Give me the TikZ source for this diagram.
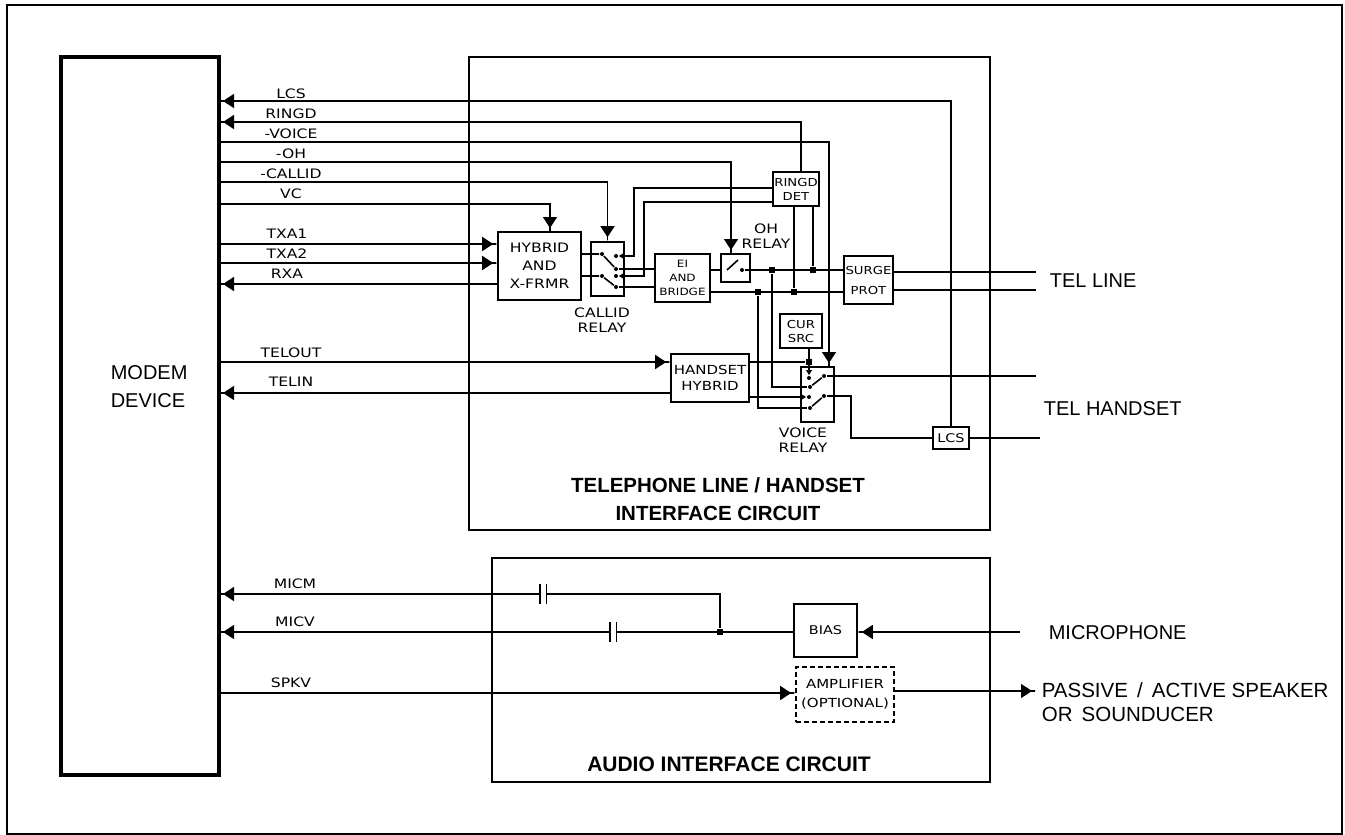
\documentclass[tikz,border=0pt]{standalone}
\usepackage{fontspec}
\setmainfont{Liberation Sans}
\newfontfamily\pixfont[FakeStretch=1.2]{DejaVu Sans}
\usetikzlibrary{positioning, calc, arrows.meta}

\begin{document}
\begin{tikzpicture}[
        x=1pt, y=-1pt,
        line width=1.6pt,
        font=\pixfont\fontsize{13}{18}\selectfont,
        block/.style={rectangle, draw, inner sep=0pt, align=center},
        tightblock/.style={block, font=\pixfont\fontsize{11}{14}\selectfont},
        circuit/.style={rectangle, draw, inner sep=0pt, line width=1.6pt},
        siglabel/.style={inner sep=0pt},
        relaylabel/.style={inner sep=0pt, align=center, font=\pixfont\fontsize{13}{15}\selectfont},
        biglabel/.style={inner sep=0pt, anchor=west, align=left, font=\fontsize{20}{24}\selectfont},
        titlelabel/.style={inner sep=0pt, align=center, font=\bfseries\fontsize{20.5}{28}\selectfont},
        junction/.style={rectangle, fill, inner sep=0pt, minimum size=6pt},
        contact/.style={circle, fill, inner sep=0pt, minimum size=4pt},
        capgap/.style={rectangle, inner sep=0pt, minimum width=5pt, minimum height=18pt},
        arrow/.style={-{Triangle[length=11pt,width=14pt,sep=0pt]Rectangle[length=4pt,width=1.6pt]}},
        smallarrow/.style={-{Triangle[length=5pt,width=5.5pt]}}
    ]
        \useasboundingbox (0,0) rectangle (1345,835);

        % Frames
        \node [rectangle, draw, line width=2pt, minimum width=1335pt, minimum height=829pt] (frame) at (674.5,419.5) {};
        \node [circuit, minimum width=521pt, minimum height=473pt] (telbox) at (729.5,293.5) {};
        \node [circuit, minimum width=498pt, minimum height=224pt] (audiobox) at (741,670) {};
        \node [rectangle, draw, line width=4pt, inner sep=0pt, minimum width=158pt, minimum height=718pt] (modem) at (140,416) {};
        \node [biglabel, font=\fontsize{20}{28}\selectfont] (modemlabel) at (110,387) {MODEM\\DEVICE};

        % Blocks
        \node [block, minimum width=83pt, minimum height=68pt] (hybrid) at (539.5,266) {HYBRID\\AND\\X-FRMR};
        \node [block, minimum width=33pt, minimum height=54pt] (callid) at (607.5,269) {};
        \node [tightblock, minimum width=55pt, minimum height=48pt, font=\pixfont\fontsize{10}{14}\selectfont] (bridge) at (682.5,278) {EI\\AND\\BRIDGE};
        \node [block, minimum width=29pt, minimum height=28pt] (oh) at (735.5,268) {};
        \node [tightblock, minimum width=46pt, minimum height=34pt] (ringd) at (796,189) {RINGD\\DET};
        \node [tightblock, minimum width=49pt, minimum height=48pt, font=\pixfont\fontsize{11}{20}\selectfont] (surge) at (868.5,280) {SURGE\\PROT};
        \node [tightblock, minimum width=42pt, minimum height=34pt] (cursrc) at (801,331) {CUR\\SRC};
        \node [block, minimum width=78pt, minimum height=48pt, font=\pixfont\fontsize{12.5}{16}\selectfont] (handset) at (710,378) {HANDSET\\HYBRID};
        \node [block, minimum width=33pt, minimum height=55pt] (voice) at (817.5,394.5) {};
        \node [tightblock, minimum width=36pt, minimum height=22pt, font=\pixfont\fontsize{12}{14}\selectfont] (lcs) at (951,438) {LCS};
        \node [tightblock, minimum width=63pt, minimum height=53pt, font=\pixfont\fontsize{12}{14}\selectfont] (bias) at (825.5,630.5) {BIAS};
        \node [block, dash pattern=on 5pt off 3pt, minimum width=98pt, minimum height=55pt, font=\pixfont\fontsize{12.5}{19}\selectfont] (amp) at (845,694.5) {AMPLIFIER\\(OPTIONAL)};

        % Labels
        \node [relaylabel] (callidlabel) at (602,320.5) {CALLID\\RELAY};
        \node [relaylabel] (ohlabel) at (766,236.5) {OH\\RELAY};
        \node [relaylabel] (voicelabel) at (803,440) {VOICE\\RELAY};
        \node [titlelabel] (telcaption) at (718,499) {TELEPHONE LINE / HANDSET\\INTERFACE CIRCUIT};
        \node [titlelabel, font=\bfseries\fontsize{21}{28}\selectfont] (audiocaption) at (729,764) {AUDIO INTERFACE CIRCUIT};
        \node [biglabel] (telline) at (1049,281) {TEL LINE};
        \node [biglabel] (telhandset) at (1043,409) {TEL HANDSET};
        \node [biglabel] (microphone) at (1048,633) {MICROPHONE};
        \node [biglabel, font=\fontsize{20.5}{24}\selectfont] (speaker) at (1041,702) {PASSIVE\, / \,ACTIVE SPEAKER\\OR\, SOUNDUCER};

        % Signal names
        \node [siglabel] (namelcs) at (291,94) {LCS};
        \node [siglabel] (nameringd) at (291,114) {RINGD};
        \node [siglabel] (namevoice) at (291,134) {-VOICE};
        \node [siglabel] (nameoh) at (291,154) {-OH};
        \node [siglabel] (namecallid) at (291,174) {-CALLID};
        \node [siglabel] (namevc) at (291,194) {VC};
        \node [siglabel] (nametxaa) at (287,234) {TXA1};
        \node [siglabel] (nametxab) at (287,254) {TXA2};
        \node [siglabel] (namerxa) at (287,274) {RXA};
        \node [siglabel] (nametelout) at (291,353) {TELOUT};
        \node [siglabel] (nametelin) at (291,382) {TELIN};
        \node [siglabel] (namemicm) at (295,584) {MICM};
        \node [siglabel] (namemicv) at (295,622) {MICV};
        \node [siglabel] (namespkv) at (291,683) {SPKV};

        % Modem rows
        \coordinate (rowlcs) at (219,101);
        \coordinate (rowringd) at (219,122);
        \coordinate (rowvoice) at (219,142);
        \coordinate (rowoh) at (219,162);
        \coordinate (rowcallid) at (219,182);
        \coordinate (rowvc) at (219,204);
        \coordinate (rowtxaa) at (219,244);
        \coordinate (rowtxab) at (219,263);
        \coordinate (rowrxa) at (219,284);
        \coordinate (rowtelout) at (219,362);
        \coordinate (rowtelin) at (219,393);
        \coordinate (rowmicm) at (219,594);
        \coordinate (rowmicv) at (219,632);
        \coordinate (rowspkv) at (219,693);

        % Free ends and bends
        \coordinate (lineup) at (1036,272);
        \coordinate (linedn) at (1036,290);
        \coordinate (handup) at (1036,376);
        \coordinate (handdn) at (1040,438);
        \coordinate (micend) at (1020,632);
        \coordinate (spkend) at (1036,691);
        \coordinate (ringdtap) at (801,172);
        \coordinate (voicetap) at (829,367);
        \coordinate (ohtap) at (731,254);
        \coordinate (vctap) at (550,232);
        \coordinate (ringdhi) at (773,188);
        \coordinate (ringdlo) at (773,202);
        \coordinate (hibend) at (634,256);
        \coordinate (lobend) at (644,276);
        \coordinate (vbturn) at (851,396);

        % Callid relay contacts
        \node [contact] (capole) at (602,254) {};
        \node [contact] (cahi) at (616,256) {};
        \node [contact] (calo) at (616,269) {};
        \node [contact] (cbpole) at (602,276) {};
        \node [contact] (cbhi) at (616,276) {};
        \node [contact] (cblo) at (616,287) {};

        % Oh relay contacts
        \coordinate (ohpole) at (727,270);
        \coordinate (ohblade) at (738,260);
        \node [contact] (ohcontact) at (742,270) {};

        % Voice relay contacts
        \node [contact] (vaa) at (809,378) {};
        \node [contact] (vap) at (810,387) {};
        \node [contact] (vah) at (824,376) {};
        \node [contact] (vba) at (809,397) {};
        \node [contact] (vbp) at (810,408) {};
        \node [contact] (vbh) at (824,396) {};

        % Junctions
        \node [junction] (jout) at (772,270) {};
        \node [junction] (jup) at (813,270) {};
        \node [junction] (jret) at (758,292) {};
        \node [junction] (jdn) at (794,292) {};
        \node [junction] (jcur) at (809,362) {};
        \node [junction] (jmic) at (720,632) {};

        % Capacitors
        \node [capgap] (capm) at (543,594) {};
        \node [capgap] (capv) at (613,632) {};
        \draw (capm.north west) -- (capm.south west) (capm.north east) -- (capm.south east);
        \draw (capv.north west) -- (capv.south west) (capv.north east) -- (capv.south east);

        % Edges to the modem
        \draw [arrow] (lcs.north) |- (rowlcs);
        \draw [arrow] (ringdtap) |- (rowringd);
        \draw [arrow] (rowvoice) -| (voicetap);
        \draw [arrow] (rowoh) -| (ohtap);
        \draw [arrow] (rowcallid) -| (callid.north);
        \draw [arrow] (rowvc) -| (vctap);
        \draw [arrow] (rowtxaa) -- (hybrid.west |- rowtxaa);
        \draw [arrow] (rowtxab) -- (hybrid.west |- rowtxab);
        \draw [arrow] (hybrid.west |- rowrxa) -- (rowrxa);
        \draw [arrow] (rowtelout) -- (handset.west |- rowtelout);
        \draw [arrow] (handset.west |- rowtelin) -- (rowtelin);

        % Callid relay
        \draw (hybrid.east |- capole) -- (capole) -- (calo);
        \draw (hybrid.east |- cbpole) -- (cbpole) -- (cblo);
        \draw [smallarrow] (ringdhi) -| (hibend) -- (cahi);
        \draw [smallarrow] (ringdlo) -| (lobend) -- (cbhi);
        \draw (calo) -- (bridge.west |- calo);
        \draw (cblo) -- (bridge.west |- cblo);

        % Oh relay and surge
        \draw (bridge.east |- ohpole) -- (oh.west |- ohpole);
        \draw (ohpole) -- (ohblade);
        \draw (ohcontact) -- (surge.west |- ohcontact);
        \draw (bridge.east |- jret) -- (surge.west |- jret);
        \draw (ringd.south -| jdn) -- (jdn);
        \draw (ringd.south -| jup) -- (jup);
        \draw (surge.east |- lineup) -- (lineup);
        \draw (surge.east |- linedn) -- (linedn);

        % Voice relay
        \draw (handset.east |- jcur) -- (jcur);
        \draw [smallarrow] (cursrc.south -| jcur) -- (vaa);
        \draw [smallarrow] (handset.east |- vba) -- (vba);
        \draw (jout) |- (vap);
        \draw (jret) |- (vbp);
        \draw (vap) -- (vah);
        \draw (vbp) -- (vbh);
        \draw (vah) -- (handup);
        \draw (vbh) -- (vbturn) |- (lcs.west);
        \draw (lcs.east) -- (handdn);

        % Audio
        \draw [arrow] (capm.west) -- (rowmicm);
        \draw [arrow] (capv.west) -- (rowmicv);
        \draw (capm.east) -| (jmic);
        \draw (bias.west |- jmic) -- (capv.east);
        \draw [arrow] (micend) -- (bias.east |- micend);
        \draw [arrow] (rowspkv) -- (amp.west |- rowspkv);
        \draw [arrow] (amp.east |- spkend) -- (spkend);

    \end{tikzpicture}
\end{document}
